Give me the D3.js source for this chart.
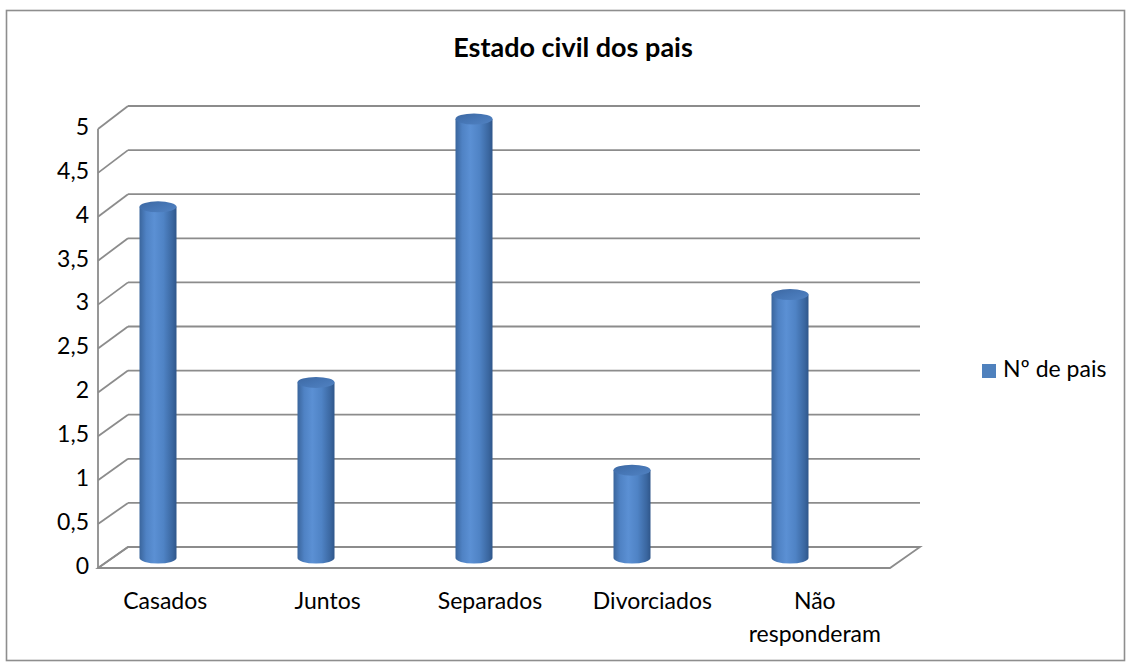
<!DOCTYPE html>
<html>
<head>
<meta charset="utf-8">
<script src="https://cdn.jsdelivr.net/npm/d3@7"></script>
<style>
  html, body { margin: 0; padding: 0; background: #fff; }
  svg { display: block; font-family: Lato, "Open Sans", sans-serif; }
</style>
</head>
<body>
<svg id="chart" width="1131" height="666"></svg>
<script>
// Chart data
const title = "Estado civil dos pais";
const seriesName = "Nº de pais";
const categories = ["Casados", "Juntos", "Separados", "Divorciados", "Não responderam"];
const values = [4, 2, 5, 1, 3];
const yTicks = [0, 0.5, 1, 1.5, 2, 2.5, 3, 3.5, 4, 4.5, 5];

const svg = d3.select("#chart");

// Outer frame
svg.append("rect")
  .attr("x", 6.5).attr("y", 10.5)
  .attr("width", 1118).attr("height", 650)
  .attr("fill", "#fff").attr("stroke", "#8e8e8e").attr("stroke-width", 1.6);

// Title
svg.append("text")
  .attr("x", 573).attr("y", 50)
  .attr("text-anchor", "middle").attr("dominant-baseline", "middle")
  .attr("font-weight", "bold").attr("font-size", 27)
  .attr("fill", "#000")
  .text(title);

// 3D box geometry: front plane and back wall
const frontX0 = 98, frontX1 = 890;
const depthX = 30;
const yFront = d3.scaleLinear().domain([0, 5]).range([568, 129]);
const yBack = d3.scaleLinear().domain([0, 5]).range([547, 106]);
const yMid = d3.scaleLinear().domain([0, 5]).range([558, 119]);

const gridColor = "#8c8c8c";
const grid = svg.append("g").attr("fill", "none").attr("stroke", gridColor).attr("stroke-width", 1.8);

// Back wall gridlines + left side wall diagonals
yTicks.forEach(v => {
  if (v > 0) {
    grid.append("line")
      .attr("x1", frontX0 + depthX).attr("x2", frontX1 + depthX)
      .attr("y1", yBack(v)).attr("y2", yBack(v));
  }
  grid.append("line")
    .attr("x1", frontX0).attr("y1", yFront(v))
    .attr("x2", frontX0 + depthX).attr("y2", yBack(v));
});

// Floor
grid.append("path")
  .attr("d", d3.line()([
    [frontX0, yFront(0)], [frontX1, yFront(0)],
    [frontX1 + depthX, yBack(0)], [frontX0 + depthX, yBack(0)]
  ]) + "Z");

// Front vertical axis
grid.append("line")
  .attr("x1", frontX0).attr("x2", frontX0)
  .attr("y1", yFront(0)).attr("y2", yFront(5));

// Y tick labels
const ptBR = d3.formatLocale({ decimal: ",", thousands: ".", grouping: [3], currency: ["", ""] });
const fmt = ptBR.format(".1~f");
svg.append("g").selectAll("text").data(yTicks).join("text")
  .attr("x", 89).attr("y", d => yFront(d))
  .attr("text-anchor", "end").attr("dominant-baseline", "middle")
  .attr("font-size", 23).attr("fill", "#000")
  .text(d => fmt(d));

// Cylinder gradients
const defs = svg.append("defs");
const bodyGrad = defs.append("linearGradient").attr("id", "bodyGrad")
  .attr("x1", "0").attr("x2", "1").attr("y1", "0").attr("y2", "0");
[[0, "#3a659c"], [0.18, "#4f82c4"], [0.4, "#5b90d4"], [0.65, "#4f83c5"], [0.9, "#3a669f"], [1, "#2f568a"]]
  .forEach(([o, c]) => bodyGrad.append("stop").attr("offset", o).attr("stop-color", c));
const topGrad = defs.append("linearGradient").attr("id", "topGrad")
  .attr("x1", "0").attr("x2", "1").attr("y1", "0").attr("y2", "1");
[[0, "#3d68a2"], [0.5, "#4676b5"], [1, "#5182c2"]]
  .forEach(([o, c]) => topGrad.append("stop").attr("offset", o).attr("stop-color", c));

// Cylinder placement
const xBar = d3.scaleBand().domain(categories).range([79, 869]);
const barW = 37, ry = 5.5;

const bars = svg.append("g").selectAll("g").data(categories.map((c, i) => ({ c, v: values[i] }))).join("g");
bars.append("path")
  .attr("fill", "url(#bodyGrad)")
  .attr("d", d => {
    const cx = xBar(d.c) + xBar.bandwidth() / 2;
    const l = cx - barW / 2, r = cx + barW / 2;
    const yt = yMid(d.v), yb = yMid(0);
    return `M${l},${yt} L${l},${yb} A${barW / 2},${ry} 0 0 0 ${r},${yb} L${r},${yt} Z`;
  });
bars.append("ellipse")
  .attr("cx", d => xBar(d.c) + xBar.bandwidth() / 2)
  .attr("cy", d => yMid(d.v))
  .attr("rx", barW / 2).attr("ry", ry)
  .attr("fill", "url(#topGrad)");

// Category labels
const xLabel = d3.scaleBand().domain(categories).range([84, 896]);
const catG = svg.append("g");
categories.forEach(c => {
  const cx = xLabel(c) + xLabel.bandwidth() / 2;
  const words = c === "Não responderam" ? ["Não", "responderam"] : [c];
  const t = catG.append("text")
    .attr("x", cx).attr("y", 603)
    .attr("text-anchor", "middle").attr("dominant-baseline", "middle")
    .attr("font-size", 23).attr("fill", "#000");
  words.forEach((w, i) => t.append("tspan").attr("x", cx).attr("dy", i === 0 ? 0 : 33).text(w));
});

// Legend
svg.append("rect").attr("x", 982).attr("y", 364).attr("width", 14).attr("height", 14).attr("fill", "#4f81bd");
svg.append("text").attr("x", 1003).attr("y", 371)
  .attr("dominant-baseline", "middle").attr("font-size", 23).attr("fill", "#000")
  .text(seriesName);
</script>
</body>
</html>
